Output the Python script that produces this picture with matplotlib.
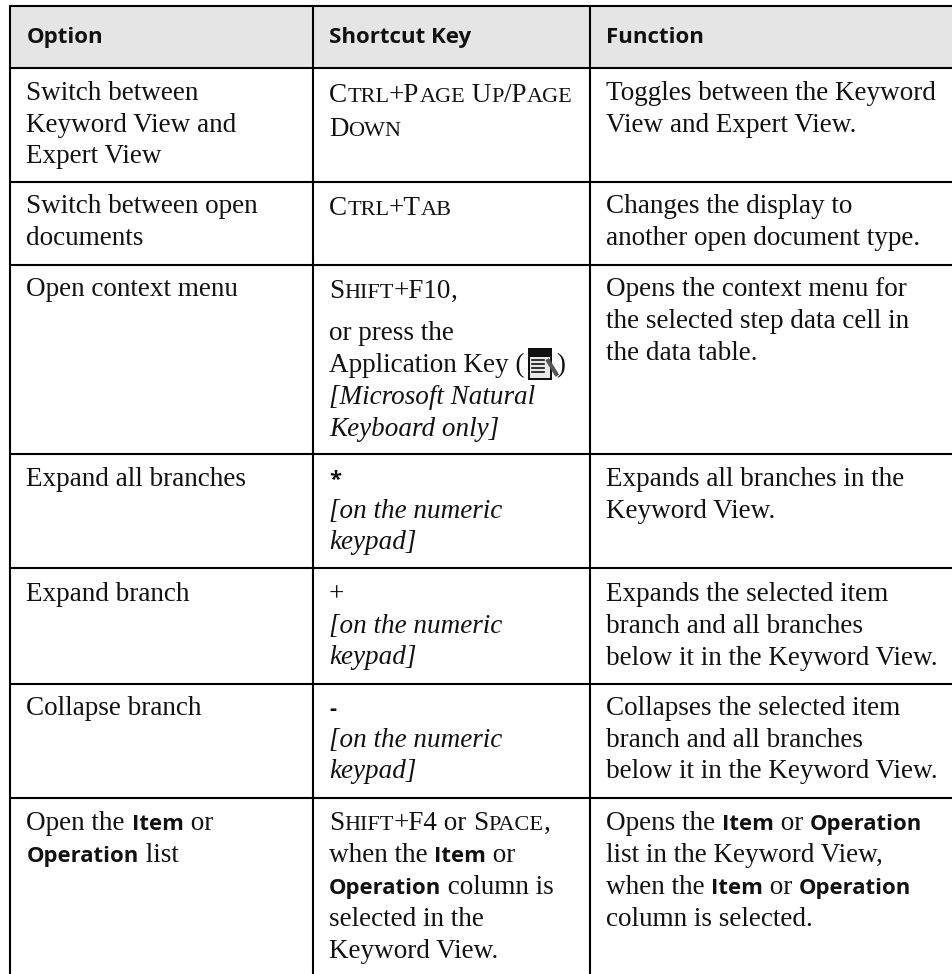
import matplotlib
matplotlib.use("Agg")
import matplotlib.pyplot as plt
from matplotlib.patches import Rectangle

# runs are (style, text); r = roman, i = italic, b = bold sans, c = small caps, k = app key icon
headers = ["Option", "Shortcut Key", "Function"]

options = [
    [[("r", "Switch between")], [("r", "Keyword View and")], [("r", "Expert View")]],
    [[("r", "Switch between open")], [("r", "documents")]],
    [[("r", "Open context menu")]],
    [[("r", "Expand all branches")]],
    [[("r", "Expand branch")]],
    [[("r", "Collapse branch")]],
    [[("r", "Open the "), ("b", "Item"), ("r", " or")], [("b", "Operation"), ("r", " list")]],
]
shortcuts = [
    [[("c", "Ctrl+Page Up/Page")], [("c", "Down")]],
    [[("c", "Ctrl+Tab")]],
    [[("c", "Shift+F10"), ("r", ",")], [("r", "or press the")],
     [("r", "Application Key ( "), ("k", ""), ("r", ")")],
     [("i", "[Microsoft Natural")], [("i", "Keyboard only]")]],
    [[("b", "*")], [("i", "[on the numeric")], [("i", "keypad]")]],
    [[("r", "+")], [("i", "[on the numeric")], [("i", "keypad]")]],
    [[("b", "-")], [("i", "[on the numeric")], [("i", "keypad]")]],
    [[("c", "Shift+F4"), ("r", " or "), ("c", "Space"), ("r", ",")],
     [("r", "when the "), ("b", "Item"), ("r", " or")],
     [("b", "Operation"), ("r", " column is")],
     [("r", "selected in the")], [("r", "Keyword View.")]],
]
functions = [
    [[("r", "Toggles between the Keyword")], [("r", "View and Expert View.")]],
    [[("r", "Changes the display to")], [("r", "another open document type.")]],
    [[("r", "Opens the context menu for")], [("r", "the selected step data cell in")], [("r", "the data table.")]],
    [[("r", "Expands all branches in the")], [("r", "Keyword View.")]],
    [[("r", "Expands the selected item")], [("r", "branch and all branches")], [("r", "below it in the Keyword View.")]],
    [[("r", "Collapses the selected item")], [("r", "branch and all branches")], [("r", "below it in the Keyword View.")]],
    [[("r", "Opens the "), ("b", "Item"), ("r", " or "), ("b", "Operation")],
     [("r", "list in the Keyword View,")],
     [("r", "when the "), ("b", "Item"), ("r", " or "), ("b", "Operation")],
     [("r", "column is selected.")]],
]

# layout in image pixels
W, H = 953, 974
col_lines = [10, 313, 590]
row_lines = [6, 68, 182, 265, 454, 568, 684, 798]
text_x = [26.5, 329, 606]
header_y = 43
option_y = [[100, 132, 163], [213, 245], [296], [486], [601], [715], [830, 862]]
shortcut_y = [[102, 136], [215], [298, 340, 372, 404, 436], [486, 518, 549],
              [601, 633, 664], [715, 747, 778], [830, 862, 894, 926, 958]]
function_y = [[100, 132], [213, 245], [296, 328, 360], [486, 518],
              [601, 633, 665], [715, 747, 778], [830, 862, 894, 926]]

ink = "#111111"
size = 19.5
bold_size = 15.9
head_size = 16

fig = plt.figure(figsize=(W / 100, H / 100), dpi=100)
ax = fig.add_axes([0, 0, 1, 1])
ax.set_xlim(0, W)
ax.set_ylim(H, 0)
ax.axis("off")
rend = fig.canvas.get_renderer()

styles = {
    "r": dict(family="Liberation Serif", size=size),
    "i": dict(family="Liberation Serif", size=size, style="italic"),
    "b": dict(family="Open Sans", size=bold_size, weight="bold"),
}


def width(s, **kw):
    # pad with x so leading and trailing spaces count
    a = ax.text(0, 0, "x" + s + "x", **kw)
    b = ax.text(0, 0, "xx", **kw)
    w = a.get_window_extent(rend).width - b.get_window_extent(rend).width
    a.remove()
    b.remove()
    return w


def put(x, y, s, **kw):
    ax.text(x, y, s, va="baseline", ha="left", color=ink, **kw)
    return x + width(s, **kw)


def small_caps(x, y, s):
    chunk = ""
    for i, ch in enumerate(s):
        chunk += ch
        nxt = s[i + 1] if i + 1 < len(s) else None
        if nxt is None or nxt.islower() != ch.islower():
            big = not chunk.islower()
            kw = dict(family="Liberation Serif", size=size * (1.0 if big else 0.82))
            x = put(x, y, chunk if big else chunk.upper(), **kw)
            chunk = ""
    return x


def app_key(x, y):
    x -= 3
    ax.add_patch(Rectangle((x, y - 24), 24, 32, fc="#111111", ec="none", zorder=3))
    ax.add_patch(Rectangle((x + 2, y - 15), 20, 21, fc="#e8e8e8", ec="none", zorder=3))
    for dy in (-12, -8, -4, 0):
        ax.plot([x + 4, x + 16], [y + dy, y + dy], color="#111111", lw=1.2, zorder=4)
    ax.plot([x + 20, x + 28], [y - 11, y + 2], color="#555555", lw=3, zorder=4)
    return x + 28


def draw_cell(x, ys, lines):
    for y, runs in zip(ys, lines):
        cx = x
        for kind, s in runs:
            if kind == "c":
                cx = small_caps(cx, y, s)
            elif kind == "k":
                cx = app_key(cx, y)
            else:
                cx = put(cx, y, s, **styles[kind])


ax.add_patch(Rectangle((col_lines[0], row_lines[0]), W - col_lines[0], row_lines[1] - row_lines[0],
                       fc="#e5e5e5", ec="none", zorder=0))
for y in row_lines:
    ax.plot([col_lines[0] - 1, W], [y, y], color="black", lw=1.5, solid_capstyle="butt", zorder=1)
for x in col_lines:
    ax.plot([x, x], [row_lines[0], H], color="black", lw=1.5, solid_capstyle="butt", zorder=1)

for x, h in zip(text_x, headers):
    put(x, header_y, h, family="Open Sans", size=head_size, weight="bold")

for col, (ys, cells) in enumerate(zip([option_y, shortcut_y, function_y], [options, shortcuts, functions])):
    for cell_y, cell in zip(ys, cells):
        draw_cell(text_x[col], cell_y, cell)

fig.savefig("out.png", dpi=100)
